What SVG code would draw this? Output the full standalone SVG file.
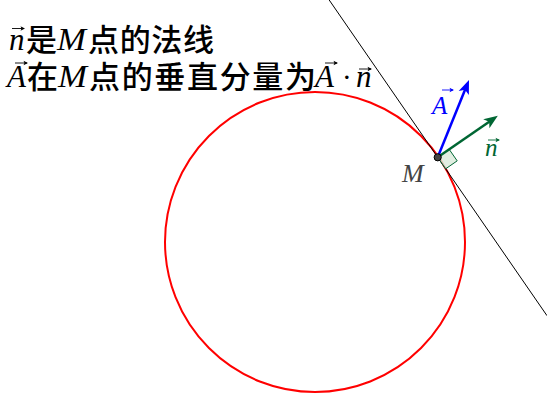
<svg xmlns="http://www.w3.org/2000/svg" width="547" height="402" viewBox="0 0 547 402">
<defs>
<style>
.cjk{font-family:"Noto Sans CJK SC","Noto Sans CJK JP",sans-serif;font-size:31px;font-weight:500;fill:#000}
.math{font-family:"Liberation Serif","Times New Roman",serif;font-style:italic;font-size:31px;fill:#000}
.dot{font-family:"Liberation Serif",serif;font-size:29px;fill:#000}
.vec{stroke:#000;stroke-width:0.9;fill:none}
</style>
<marker id="headBlue" markerUnits="userSpaceOnUse" viewBox="-6 -7 18 14" refX="0" refY="0" markerWidth="18" markerHeight="14" orient="auto">
<path d="M10,0 L-4,-5.5 L-0.5,0 L-4,5.5 Z" fill="#0000ff"/>
</marker>
<marker id="headGreen" markerUnits="userSpaceOnUse" viewBox="-6 -7 18 14" refX="0" refY="0" markerWidth="18" markerHeight="14" orient="auto">
<path d="M10,0 L-4,-5.5 L-0.5,0 L-4,5.5 Z" fill="#006633"/>
</marker>
<marker id="vh" markerUnits="userSpaceOnUse" viewBox="-5 -3 7 6" refX="0" refY="0" markerWidth="7" markerHeight="6" orient="auto">
<path d="M1,0 L-3.5,-2.2 L-2.5,0 L-3.5,2.2 Z" fill="#000"/>
</marker>
<marker id="vhBlue" markerUnits="userSpaceOnUse" viewBox="-5 -3 7 6" refX="0" refY="0" markerWidth="7" markerHeight="6" orient="auto">
<path d="M1,0 L-3.5,-2.2 L-2.5,0 L-3.5,2.2 Z" fill="#0000ff"/>
</marker>
<marker id="vhGreen" markerUnits="userSpaceOnUse" viewBox="-5 -3 7 6" refX="0" refY="0" markerWidth="7" markerHeight="6" orient="auto">
<path d="M1,0 L-3.5,-2.2 L-2.5,0 L-3.5,2.2 Z" fill="#006633"/>
</marker>
</defs>
<rect width="547" height="402" fill="#fff"/>

<g id="title">
<text class="math" x="9" y="50">n</text>
<path class="vec" d="M12,28.5 L24,28.5" marker-end="url(#vh)"/>
<text class="cjk" x="26" y="51">是</text>
<text class="math" x="57" y="50" textLength="29" lengthAdjust="spacingAndGlyphs">M</text>
<text class="cjk" x="88" y="51" textLength="126" lengthAdjust="spacing">点的法线</text>

<text class="math" x="7" y="87">A</text>
<path class="vec" d="M15,63 L27,63" marker-end="url(#vh)"/>
<text class="cjk" x="27" y="88">在</text>
<text class="math" x="58" y="87" textLength="29" lengthAdjust="spacingAndGlyphs">M</text>
<text class="cjk" x="89" y="88" textLength="227" lengthAdjust="spacing">点的垂直分量为</text>
<text class="math" x="315" y="87">A</text>
<path class="vec" d="M325,63 L337,63" marker-end="url(#vh)"/>
<text class="dot" x="342" y="87">·</text>
<text class="math" x="356" y="87">n</text>
<path class="vec" d="M359,69 L371,69" marker-end="url(#vh)"/>
</g>

<g id="circle">
<circle cx="315" cy="242" r="150" fill="none" stroke="#ff0000" stroke-width="2"/>
</g>

<g id="connectors">
<line id="tangent" x1="329.2" y1="0" x2="547" y2="315.7" stroke="#000" stroke-width="1"/>
<polygon id="rightangle" points="437.7,157.3 449.2,149.35 457.2,160.85 445.65,168.8" fill="#d9ead9" fill-opacity="0.8" stroke="#006633" stroke-width="1"/>
<line id="vecA" x1="437.7" y1="157.3" x2="465.25" y2="89.27" stroke="#0000ff" stroke-width="2.5" marker-end="url(#headBlue)"/>
<line id="vecN" x1="437.7" y1="157.3" x2="489.6" y2="121.5" stroke="#006633" stroke-width="2.5" marker-end="url(#headGreen)"/>
</g>

<g id="pointM">
<circle cx="437.7" cy="157.3" r="3.6" fill="#444" stroke="#000" stroke-width="1"/>
<text x="402" y="182" font-family="Liberation Serif, serif" font-style="italic" font-size="26" fill="#444">M</text>
</g>

<g id="labelA">
<text x="432" y="114" font-family="Liberation Serif, serif" font-style="italic" font-size="25" fill="#0000ff">A</text>
<path d="M442,90 L453,90" stroke="#0000ff" stroke-width="0.9" fill="none" marker-end="url(#vhBlue)"/>
</g>

<g id="labelN">
<text x="485" y="156" font-family="Liberation Serif, serif" font-style="italic" font-size="25" fill="#006633">n</text>
<path d="M488,140 L499,140" stroke="#006633" stroke-width="0.9" fill="none" marker-end="url(#vhGreen)"/>
</g>
</svg>
